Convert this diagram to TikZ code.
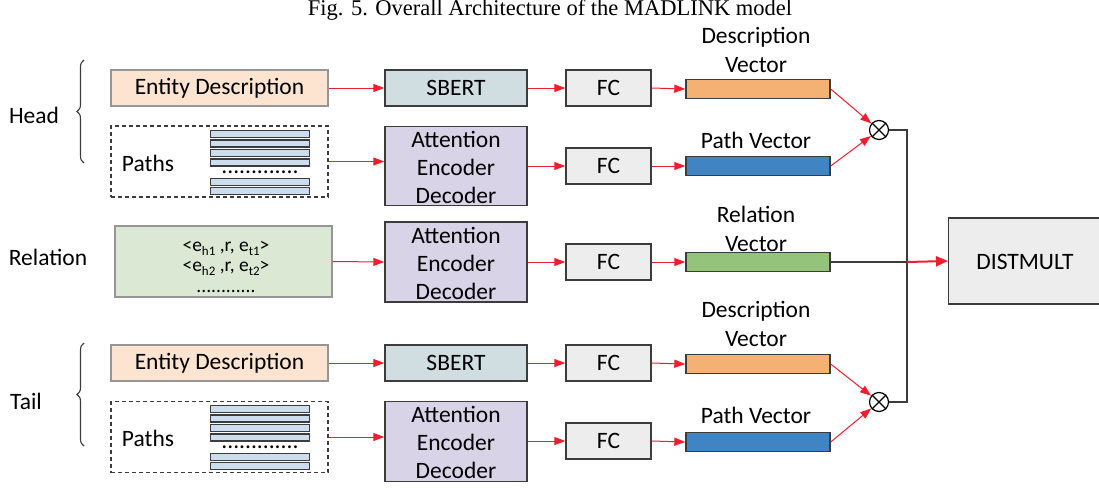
\documentclass[tikz,border=0pt]{standalone}
\usepackage{fontspec}
\setmainfont{Carlito}
\newfontfamily\capfont{Liberation Serif}
\usetikzlibrary{arrows.meta,decorations.pathreplacing,calc}
\definecolor{rline}{RGB}{240,30,45}
\definecolor{bord}{RGB}{60,60,60}
\definecolor{lbord}{RGB}{150,150,150}
\definecolor{peach}{RGB}{252,228,208}
\definecolor{sbertc}{RGB}{208,222,226}
\definecolor{attc}{RGB}{217,211,232}
\definecolor{fcc}{RGB}{237,237,237}
\definecolor{relc}{RGB}{218,232,212}
\definecolor{orangebar}{RGB}{245,177,115}
\definecolor{bluebar}{RGB}{64,132,196}
\definecolor{greenbar}{RGB}{148,196,124}
\definecolor{stripec}{RGB}{204,222,238}
\newcommand\mysubx[1]{\raisebox{-4.5pt}{\fontsize{13}{13}\selectfont #1}}
\tikzset{
  every node/.style={font=\fontsize{23.5}{27}\selectfont},
  box/.style={draw=bord, line width=1.4pt, inner sep=0pt, align=center},
  lbox/.style={draw=lbord, line width=1.4pt, inner sep=0pt, align=center},
  dbox/.style={draw=bord, line width=1.1pt, dashed, dash pattern=on 4pt off 3pt, inner sep=0pt},
  bar/.style={draw=bord, line width=1.4pt, inner sep=0pt, minimum width=144pt, minimum height=19pt},
  stripe/.style={draw=bord, line width=1.1pt, fill=stripec, inner sep=0pt, minimum width=99pt, minimum height=7pt},
  rarr/.style={draw=rline, line width=1pt, -{Triangle[length=11pt,width=8pt]}},
  barr/.style={draw=rline, line width=2pt, -{Triangle[length=12pt,width=10pt]}},
  bline/.style={draw=bord, line width=1.3pt},
  otc/.style={circle, draw=black, line width=1.2pt, minimum size=19pt, inner sep=0pt},
  lab/.style={align=center},
  dots/.style={inner sep=0pt},
  reltext/.style={font=\fontsize{19.5}{20}\selectfont, inner sep=0pt, anchor=base},
}
\begin{document}
\begin{tikzpicture}[x=1pt,y=-1pt]
\useasboundingbox (0,0) rectangle (1099,487);
% caption
\node[font=\fontsize{22.5}{24}\selectfont\capfont] (cap) at (550,10) {Fig. 5. Overall Architecture of the MADLINK model};

% side labels and braces
\node (head) at (34,115) {Head};
\node (rel) at (48,257) {Relation};
\node (tail) at (26,401) {Tail};
\coordinate (hb1) at (84,163); \coordinate (hb2) at (84,60);
\draw[bord, line width=1.1pt, decorate, decoration={brace, amplitude=7pt}] (hb1) -- (hb2);
\coordinate (tb1) at (84,446); \coordinate (tb2) at (84,343);
\draw[bord, line width=1.1pt, decorate, decoration={brace, amplitude=7pt}] (tb1) -- (tb2);

% ---------- head ----------
\node[lbox, fill=peach, minimum width=217pt, minimum height=36pt] (ed1) at (219.5,88) {Entity Description};
\node[dbox, minimum width=217pt, minimum height=71pt] (pb1) at (219.5,161.5) {};
\node (pt1) at (148,163) {Paths};
\node[stripe] (s11) at (260,134) {};
\node[stripe] (s12) at (260,143.5) {};
\node[stripe] (s13) at (260,153) {};
\node[stripe] (s14) at (260,162.5) {};
\node[dots] (d1) at (260,172) {.............};
\node[stripe] (s15) at (260,182) {};
\node[stripe] (s16) at (260,191) {};
\node[box, fill=sbertc, minimum width=142pt, minimum height=36pt] (sb1) at (456,88) {SBERT};
\node[box, fill=attc, minimum width=142pt, minimum height=79pt] (at1) at (456,166) {};
\node[align=center] (at1t) at (456,167) {Attention\\[1pt]Encoder\\[1pt]Decoder};
\node[box, fill=fcc, minimum width=85pt, minimum height=36pt] (fc1) at (608.5,88) {FC};
\node[box, fill=fcc, minimum width=85pt, minimum height=36pt] (fc2) at (608.5,166) {FC};
\node[bar, fill=orangebar] (db1) at (758,89) {};
\node[bar, fill=bluebar] (pv1) at (758,166) {};
\node[lab] (dl1) at (756,50) {Description\\[2pt]Vector};
\node (pl1) at (756,140) {Path Vector};
\node[otc] (ot1) at (879,130) {};
\draw[line width=1.1pt] (ot1.45) -- (ot1.225) (ot1.135) -- (ot1.315);

\draw[rarr] (ed1.east) -- (sb1.west);
\draw[rarr] (pb1.east) -- (pb1.east -| at1.west);
\draw[rarr] (sb1.east) -- (fc1.west);
\draw[rarr] (at1.east |- fc2.west) -- (fc2.west);
\draw[rarr] (fc1.east) -- (db1.west);
\draw[rarr] (fc2.east) -- (pv1.west);
\draw[rarr] (db1.east) -- (ot1);
\draw[rarr] (pv1.east) -- (ot1);

% ---------- relation ----------
\node[lbox, fill=relc, minimum width=217pt, minimum height=71pt] (rb) at (223.5,261.5) {};
\node[reltext] (r1) at (226,251) {<e\mysubx{h1} ,r, e\mysubx{t1}>};
\node[reltext] (r2) at (226,271) {<e\mysubx{h2} ,r, e\mysubx{t2}>};
\node[reltext] (r3) at (226,292) {............};
\node[box, fill=attc, minimum width=142pt, minimum height=80pt] (at2) at (456,262) {};
\node[align=center] (at2t) at (456,263) {Attention\\[1pt]Encoder\\[1pt]Decoder};
\node[box, fill=fcc, minimum width=85pt, minimum height=36pt] (fc3) at (608.5,262) {FC};
\node[bar, fill=greenbar] (rv) at (758,262) {};
\node[lab] (rl) at (756,229) {Relation\\[2pt]Vector};
\draw[rarr] (rb.east) -- (at2.west);
\draw[rarr] (at2.east) -- (fc3.west);
\draw[rarr] (fc3.east) -- (rv.west);

% ---------- tail ----------
\node[lbox, fill=peach, minimum width=217pt, minimum height=36pt] (ed2) at (219.5,363) {Entity Description};
\node[dbox, minimum width=217pt, minimum height=71pt] (pb2) at (219.5,437) {};
\node (pt2) at (148,438) {Paths};
\node[stripe] (s21) at (260,409) {};
\node[stripe] (s22) at (260,418.5) {};
\node[stripe] (s23) at (260,428) {};
\node[stripe] (s24) at (260,437.5) {};
\node[dots] (d2) at (260,447) {.............};
\node[stripe] (s25) at (260,457) {};
\node[stripe] (s26) at (260,466) {};
\node[box, fill=sbertc, minimum width=142pt, minimum height=36pt] (sb2) at (456,363) {SBERT};
\node[box, fill=attc, minimum width=142pt, minimum height=80pt] (at3) at (456,441.5) {};
\node[align=center] (at3t) at (456,442) {Attention\\[1pt]Encoder\\[1pt]Decoder};
\node[box, fill=fcc, minimum width=85pt, minimum height=36pt] (fc4) at (608.5,363) {FC};
\node[box, fill=fcc, minimum width=85pt, minimum height=36pt] (fc5) at (608.5,441) {FC};
\node[bar, fill=orangebar] (db2) at (758,364) {};
\node[bar, fill=bluebar] (pv2) at (758,442) {};
\node[lab] (dl2) at (756,324) {Description\\[2pt]Vector};
\node (pl2) at (756,415) {Path Vector};
\node[otc] (ot2) at (879,402) {};
\draw[line width=1.1pt] (ot2.45) -- (ot2.225) (ot2.135) -- (ot2.315);

\draw[rarr] (ed2.east) -- (sb2.west);
\draw[rarr] (pb2.east) -- (pb2.east -| at3.west);
\draw[rarr] (sb2.east) -- (fc4.west);
\draw[rarr] (at3.east |- fc5.west) -- (fc5.west);
\draw[rarr] (fc4.east) -- (db2.west);
\draw[rarr] (fc5.east) -- (pv2.west);
\draw[rarr] (db2.east) -- (ot2);
\draw[rarr] (pv2.east) -- (ot2);

% ---------- DISTMULT ----------
\node[box, fill=fcc, minimum width=156pt, minimum height=86pt, anchor=west] (dm) at (948,261) {};
\node (dmt) at (1025,262) {DISTMULT};
\coordinate (j) at (907,262);
\draw[bline] (ot1.east) -| (j);
\draw[bline] (ot2.east) -| (j);
\draw[bline] (rv.east) -- (j);
\draw[barr] (j) -- (dm.west);
\end{tikzpicture}
\end{document}
